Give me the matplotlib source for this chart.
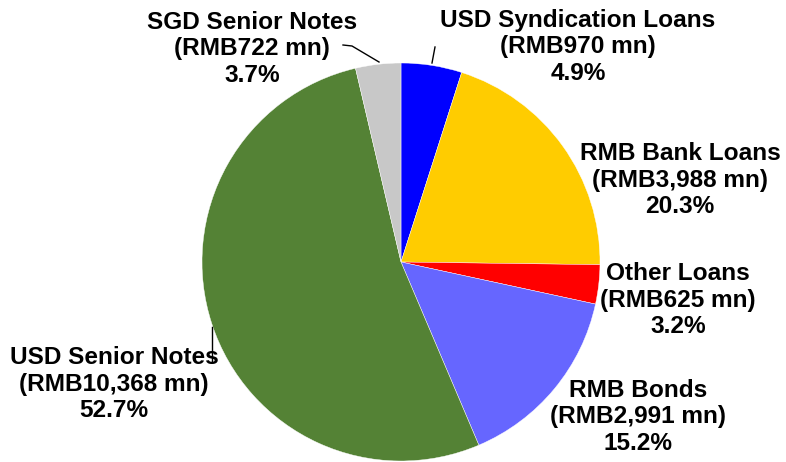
import matplotlib
matplotlib.use("Agg")
import matplotlib.pyplot as plt

# Données (sens horaire depuis midi)
names = ["USD Syndication Loans", "RMB Bank Loans", "Other Loans",
         "RMB Bonds", "USD Senior Notes", "SGD Senior Notes"]
values = [970, 3988, 625, 2991, 10368, 722]
colors = ["#0000FF", "#FFCC00", "#FF0000", "#6666FF", "#548235", "#C8C8C8"]

# positions des étiquettes (pixels image, centre du bloc)
label_pos = [(578, 47), (680, 180), (678, 300), (638, 417), (114, 384), (252, 49)]

W, H = 786, 462
plt.rcParams["font.family"] = ["Liberation Sans", "DejaVu Sans"]

fig = plt.figure(figsize=(W / 100, H / 100), dpi=100)
ax = fig.add_axes([0, 0, 1, 1])

cx, cy, r = 401, H - 262, 199
ax.pie(values, colors=colors, startangle=90, counterclock=False,
       center=(cx, cy), radius=r, frame=True,
       wedgeprops=dict(linewidth=0.3, edgecolor="white"))
ax.set_xlim(0, W)
ax.set_ylim(0, H)
ax.set_aspect("equal")
ax.axis("off")

total = sum(values)
for name, v, (x, y) in zip(names, values, label_pos):
    pct = v / total * 100
    txt = f"{name}\n(RMB{v:,} mn)\n{pct:.1f}%"
    ax.text(x, H - y, txt, ha="center", va="center", multialignment="center",
            fontsize=17.6, fontweight="bold", linespacing=1.2, color="black")

# lignes de rappel
leaders = [
    [(343, 45), (352, 46), (379, 62)],
    [(435, 47), (432, 63)],
    [(212, 327), (212, 362)],
]
for pts in leaders:
    xs = [p[0] for p in pts]
    ys = [H - p[1] for p in pts]
    ax.plot(xs, ys, color="black", linewidth=1)

fig.savefig("out.png", dpi=100)
